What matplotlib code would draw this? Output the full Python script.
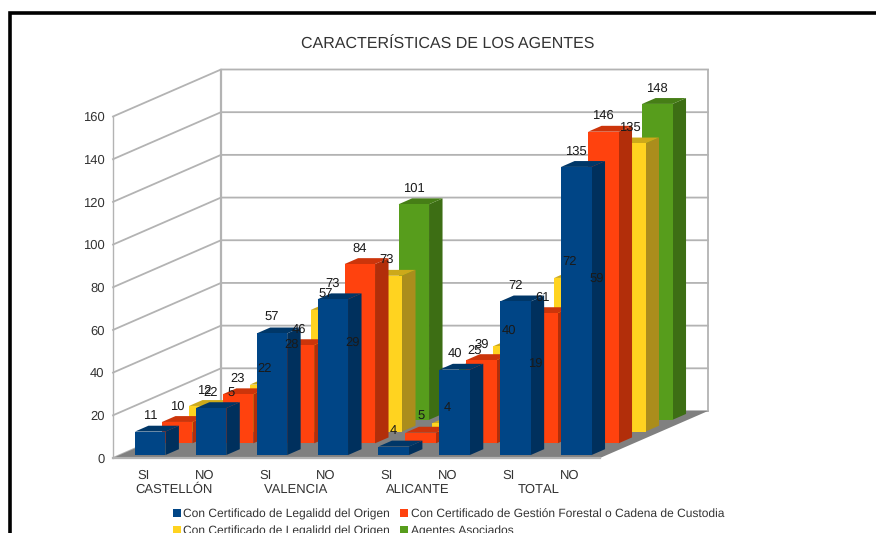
import matplotlib
matplotlib.use("Agg")
import matplotlib.pyplot as plt
from matplotlib.patches import Polygon, Patch, Rectangle

plt.rcParams['font.family'] = ['Liberation Sans', 'DejaVu Sans']
plt.rcParams['text.hinting'] = 'no_hinting'
plt.rcParams['text.hinting_factor'] = 1

W, H = 876, 533

bar_labels = ["SI", "NO", "SI", "NO", "SI", "NO", "SI", "NO"]
groups = ["CASTELLÓN", "VALENCIA", "ALICANTE", "TOTAL"]
y_ticks = [0, 20, 40, 60, 80, 100, 120, 140, 160]

legalidad_a = [11, 22, 57, 73, 4, 40, 72, 135]
gestion = [10, 23, 46, 84, 5, 39, 61, 146]
legalidad_b = [12, 22, 57, 73, 4, 40, 72, 135]
asociados = [5, 28, 29, 101, 25, 19, 59, 148]

name_a = "Con Certificado de Legalidd del Origen"
name_g = "Con Certificado de Gestión Forestal o Cadena de Custodia"
name_b = "Con Certificado de Legalidd del Origen"
name_s = "Agentes Asociados"

# (values, label, front, side, top) ordered front row to back row
series = [
    (legalidad_a, name_a, "#004586", "#00305d", "#003768"),
    (gestion, name_g, "#ff420e", "#b22e0a", "#cc350b"),
    (legalidad_b, name_b, "#ffd320", "#ab8d1c", "#cca91a"),
    (asociados, name_s, "#579d1c", "#3d6e14", "#467e16"),
]

fig = plt.figure(figsize=(W / 100, H / 100), dpi=100, facecolor="white")

# Front plane of the 3D box: category units horizontally, values vertically
ax = fig.add_axes([113 / W, (H - 458) / H, 487 / W, 341.5 / H])
ax.set_xlim(0, len(bar_labels))
ax.set_ylim(0, 160)
ax.patch.set_visible(False)
for s in ax.spines.values():
    s.set_visible(False)

# Oblique depth vector, in data units, for the full depth of the box
DX = 108 / (487 / 8)
DY = 47 / (341.5 / 160)


def proj(x, v, d):
    return (x + d * DX, v + d * DY)


def poly(pts, color, z, **kw):
    ax.add_patch(Polygon(pts, closed=True, facecolor=color, edgecolor=kw.pop("ec", "none"),
                         clip_on=False, zorder=z, **kw))


GRID = "#b3b3b3"
n = len(bar_labels)
# walls and floor
poly([proj(0, 0, 0), proj(n, 0, 0), proj(n, 0, 1), proj(0, 0, 1)], "#808080", 1)
for v in y_ticks:
    ax.plot(*zip(proj(0, v, 0), proj(0, v, 1), proj(n, v, 1)), color=GRID, lw=1.3,
            clip_on=False, zorder=0.5, solid_joinstyle="miter")
ax.plot(*zip(proj(0, 0, 0), proj(0, 160, 0)), color=GRID, lw=1.0, clip_on=False, zorder=0.5)
ax.plot(*zip(proj(0, 0, 1), proj(0, 160, 1)), color=GRID, lw=1.6, clip_on=False, zorder=0.5)
ax.plot(*zip(proj(n, 0, 1), proj(n, 160, 1)), color=GRID, lw=1.3, clip_on=False, zorder=0.5)
ax.plot(*zip(proj(0, 0, 0), proj(n, 0, 0)), color=GRID, lw=1.6, clip_on=False, zorder=1.1)

# bars, back row first
rows = len(series)
z = 2
for r in reversed(range(rows)):
    vals, label, front, side, top = series[r]
    d0 = (r + 0.25) / rows
    d1 = (r + 0.75) / rows
    for i, v in enumerate(vals):
        x0, x1 = i + 0.25, i + 0.75
        poly([proj(x1, 0, d0), proj(x1, 0, d1), proj(x1, v, d1), proj(x1, v, d0)], side, z)
        poly([proj(x0, v, d0), proj(x1, v, d0), proj(x1, v, d1), proj(x0, v, d1)], top, z)
        poly([proj(x0, 0, d0), proj(x1, 0, d0), proj(x1, v, d0), proj(x0, v, d0)], front, z)
        lx, ly = proj(i + 0.5, v, d0)
        ax.text(lx, ly + 7.4, str(v), ha="center", va="center", fontsize=9, color="#1a1a1a",
                zorder=20, clip_on=False)
    z += 1

# axis labels
ax.set_yticks(y_ticks)
ax.set_yticklabels([str(v) for v in y_ticks], fontsize=9, color="#333333")
ax.set_xticks([i + 0.5 for i in range(n)])
ax.set_xticklabels(bar_labels, fontsize=9, color="#333333")
ax.set_xticks([1, 3, 5, 7], labels=groups, minor=True, fontsize=9, color="#333333")
ax.tick_params(axis="both", which="both", length=0)
ax.tick_params(axis="y", pad=6)
ax.tick_params(axis="x", which="major", pad=8.5)
ax.tick_params(axis="x", which="minor", pad=18.5)

fig.text(448 / W, 1 - 44.5 / H, "CARACTERÍSTICAS DE LOS AGENTES", ha="center", va="center",
         fontsize=11.25, color="#333333")

handles = [Patch(facecolor=series[k][2], label=series[k][1]) for k in (0, 2, 1, 3)]
fig.legend(handles=handles, ncols=2, loc="upper left", bbox_to_anchor=(170.5 / W, 1 - 506 / H),
           frameon=False, fontsize=8.75, labelcolor="#333333", handlelength=0.65, handleheight=0.7,
           handletextpad=0.2, columnspacing=0.85, labelspacing=0.5, borderpad=0.2, borderaxespad=0)

# black frame around the picture
fig.add_artist(Rectangle((9.5 / W, -0.05), 1.2, 1 - 12.5 / H + 0.05, transform=fig.transFigure,
                         facecolor="none", edgecolor="black", lw=2.6))

fig.savefig("out.png", dpi=100)
